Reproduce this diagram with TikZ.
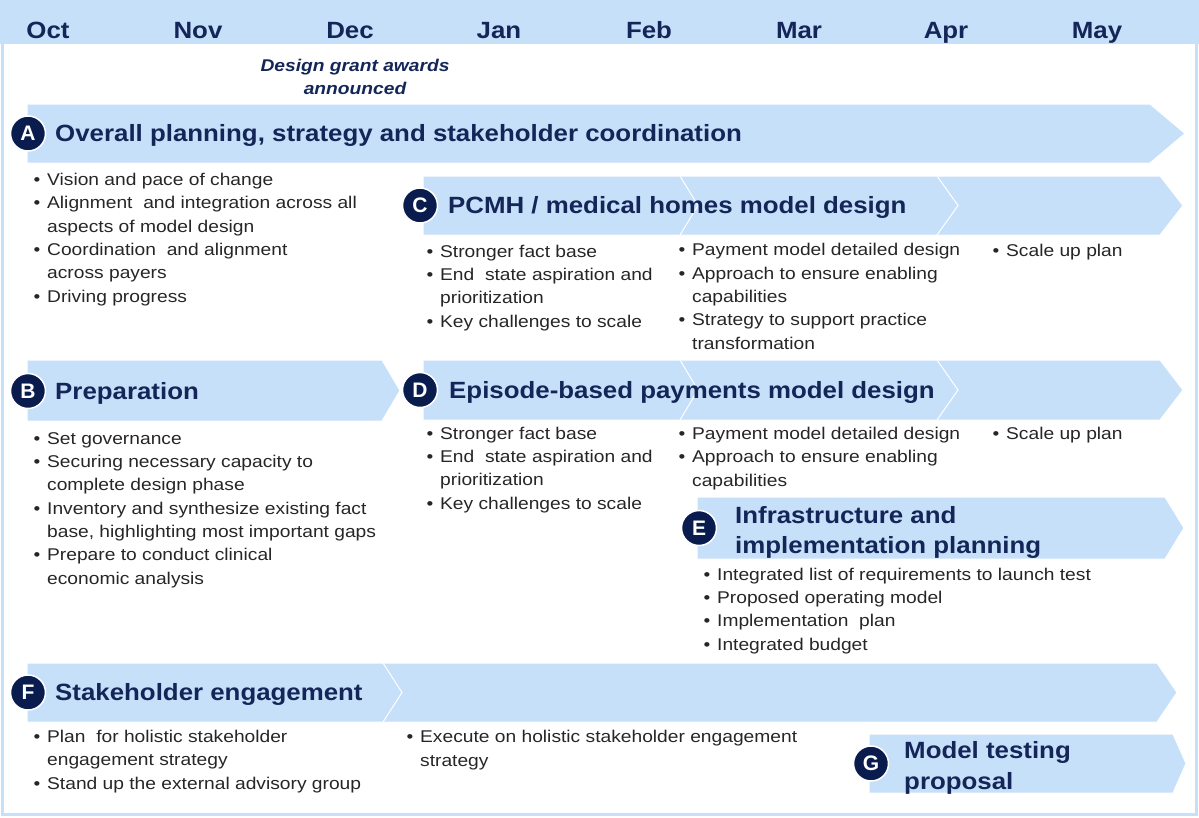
\documentclass[tikz,border=0pt]{standalone}
\usepackage{fontspec}
\setmainfont{Liberation Sans}
\usepackage{tikz}
\usetikzlibrary{calc}

\definecolor{barblue}{RGB}{198,224,250}
\definecolor{navy}{RGB}{20,38,88}
\definecolor{dotnavy}{RGB}{10,28,78}
\definecolor{bodygrey}{RGB}{38,38,38}

\newcommand{\bul}{\makebox[12pt][l]{\textbullet}}
\newcommand{\ind}{\hspace*{12pt}}

\begin{document}
\begin{tikzpicture}[x=1pt,y=-1pt,
	bar/.style={fill=barblue,draw=white,line width=1pt},
	tag/.style={circle,fill=dotnavy,draw=white,line width=1.5pt,minimum size=35pt,inner sep=0pt,text=white,font=\fontsize{21}{21}\selectfont\bfseries},
	head/.style={anchor=base west,inner sep=0pt,text=navy,align=left,xscale=1.1,font=\fontsize{23.5}{30.5}\selectfont\bfseries},
	month/.style={anchor=base,text=navy,inner sep=0pt,xscale=1.1,font=\fontsize{23.5}{24}\selectfont\bfseries},
	items/.style={anchor=base west,inner sep=0pt,text=bodygrey,align=left,xscale=1.13,font=\fontsize{17}{23.3}\selectfont}]
			\useasboundingbox (0,0) rectangle (1199,817);
			\fill[barblue](0,0) rectangle (1199,44);
			\draw[barblue,line width=3pt](2.5,2.5) rectangle (1196.5,814.5);
			\foreach \m/\x in {Oct/48,Nov/198,Dec/350,Jan/499,Feb/649,Mar/799,Apr/946,May/1097}
				\node[month](m\m) at(\x,38.4){\m};
			% base of a multi-line node is its last line
			\node[anchor=base,text=navy,inner sep=0pt,align=center,xscale=1.13,font=\fontsize{17}{23}\selectfont\bfseries\itshape](grant) at(355,94){Design grant awards\\announced};
			
			% chevrons
			\draw[bar](27,104) -- (1150,104) -- (1185,133.5) -- (1150,163) -- (27,163) -- cycle;
			\draw[bar](937,176) -- (1160,176) -- (1183,205.5) -- (1160,235) -- (937,235) -- cycle;
			\draw[bar](680,176) -- (937,176) -- (958,205.5) -- (937,235) -- (680,235) -- cycle;
			\draw[bar](423,176) -- (680,176) -- (698,205.5) -- (680,235) -- (423,235) -- cycle;
			\draw[bar](27,360) -- (382,360) -- (400,390.5) -- (382,421) -- (27,421) -- cycle;
			\draw[bar](937,360) -- (1160,360) -- (1183,390) -- (1160,420) -- (937,420) -- cycle;
			\draw[bar](680,360) -- (937,360) -- (958,390) -- (937,420) -- (680,420) -- cycle;
			\draw[bar](423,360) -- (680,360) -- (698,390) -- (680,420) -- (423,420) -- cycle;
			\draw[bar](697,497) -- (1165,497) -- (1184,528) -- (1165,559) -- (697,559) -- cycle;
			\draw[bar](383,663) -- (1157,663) -- (1177,692.5) -- (1157,722) -- (383,722) -- cycle;
			\draw[bar](27,663) -- (383,663) -- (402,692.5) -- (383,722) -- (27,722) -- cycle;
			\draw[bar](869,734) -- (1173,734) -- (1186,763.5) -- (1173,793) -- (869,793) -- cycle;
			
			% letters
			\node[tag](tagA) at(28,133.5){A};
			\node[tag](tagB) at(28,391){B};
			\node[tag](tagC) at(420,205.5){C};
			\node[tag](tagD) at(420,390){D};
			\node[tag](tagE) at(699,528){E};
			\node[tag](tagF) at(28,692.5){F};
			\node[tag](tagG) at(871,763.5){G};
			
			% titles
			\node[head](headA) at(55,141.5){Overall planning, strategy and stakeholder coordination};
			\node[head](headB) at(55,399){Preparation};
			\node[head](headC) at(448,213.5){PCMH / medical homes model design};
			\node[head](headD) at(449,398){Episode-based payments model design};
			\node[head](headE) at(735,553.6){Infrastructure and\\implementation planning};
			\node[head](headF) at(55,700.5){Stakeholder engagement};
			\node[head](headG) at(904,789){Model testing\\proposal};
			
			% bullet lists
			\node[items](listA) at(33.4,302){\bul Vision and pace of change\\\bul Alignment\ \ and integration across all\\\ind aspects of model design\\\bul Coordination\ \ and alignment\\\ind across payers\\\bul Driving progress};
			\node[items](listC1) at(426.4,327){\bul Stronger fact base\\\bul End\ \ state aspiration and\\\ind prioritization\\\bul Key challenges to scale};
			\node[items](listC2) at(678.4,349){\bul Payment model detailed design\\\bul Approach to ensure enabling\\\ind capabilities\\\bul Strategy to support practice\\\ind transformation};
			\node[items](listC3) at(992.4,256){\bul Scale up plan};
			\node[items](listB) at(33.4,584){\bul Set governance\\\bul Securing necessary capacity to\\\ind complete design phase\\\bul Inventory and synthesize existing fact\\\ind base, highlighting most important gaps\\\bul Prepare to conduct clinical\\\ind economic analysis};
			\node[items](listD1) at(426.4,509){\bul Stronger fact base\\\bul End\ \ state aspiration and\\\ind prioritization\\\bul Key challenges to scale};
			\node[items](listD2) at(678.4,486){\bul Payment model detailed design\\\bul Approach to ensure enabling\\\ind capabilities};
			\node[items](listD3) at(992.4,439){\bul Scale up plan};
			\node[items](listE) at(703.4,650){\bul Integrated list of requirements to launch test\\\bul Proposed operating model\\\bul Implementation\ \ plan\\\bul Integrated budget};
			\node[items](listF1) at(33.4,789){\bul Plan\ \ for holistic stakeholder\\\ind engagement strategy\\\bul Stand up the external advisory group};
			\node[items](listF2) at(406.4,766){\bul Execute on holistic stakeholder engagement\\\ind strategy};
		\end{tikzpicture}
\end{document}
